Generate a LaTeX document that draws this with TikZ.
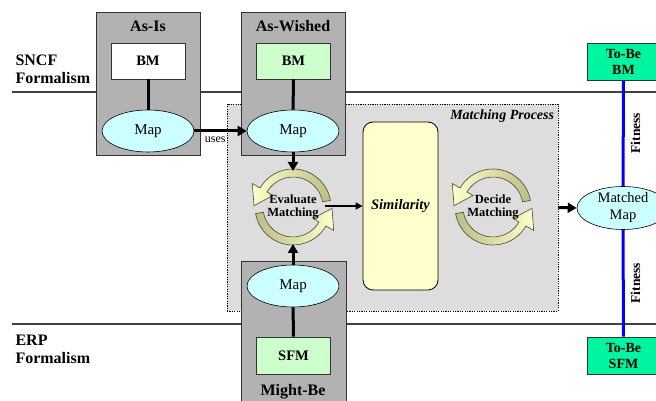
\documentclass[tikz,border=0pt]{standalone}
\usepackage{fontspec}
\setmainfont{Liberation Serif}
\usetikzlibrary{positioning, shapes.geometric, calc, arrows.meta}

\definecolor{boxgray}{HTML}{B2B2B2}
\definecolor{procgray}{HTML}{DDDDDD}
\definecolor{mapcyan}{HTML}{CCFFFF}
\definecolor{bmgreen}{HTML}{CCFFCC}
\definecolor{tobegreen}{HTML}{00F5A0}
\definecolor{simyellow}{HTML}{FFFFCC}
\definecolor{turndark}{HTML}{BDBD8A}
\definecolor{fitblue}{HTML}{0000FF}

% one half of a turning pair of arrows round a centre
\newcommand{\turnarrow}[3]{%
  \draw[turn, #3] ($(#1)+(#2+10:38pt)$) arc (#2+10:#2+150:38pt)
    -- ($(#1)+(#2+150:47pt)$) -- ($(#1)+(#2+178:39pt)$)
    -- ($(#1)+(#2+150:23pt)$) -- ($(#1)+(#2+150:30pt)$)
    arc (#2+150:#2+10:30pt) -- cycle;}

\begin{document}
\begin{tikzpicture}[x=1pt, y=1pt,
    frame/.style={draw=black!80, fill=boxgray, line width=0.8pt, minimum width=104pt, inner sep=0pt},
    model/.style={draw=black!80, line width=0.6pt, minimum width=74pt, minimum height=36pt, inner sep=0pt,
      font=\fontsize{14.5}{14.5}\selectfont\bfseries},
    tobe/.style={model, fill=tobegreen, minimum width=73pt, minimum height=37pt, align=center,
      font=\fontsize{14}{16}\selectfont\bfseries},
    map/.style={draw, ellipse, fill=mapcyan, line width=0.6pt, minimum width=92pt, minimum height=42pt,
      inner sep=0pt, font=\fontsize{15}{17}\selectfont},
    title/.style={font=\fontsize{16}{18}\selectfont\bfseries},
    stage/.style={align=center, font=\fontsize{12.5}{13.5}\selectfont\bfseries},
    link/.style={line width=3pt},
    flow/.style={line width=3pt, -{Triangle[length=9pt, width=10pt]}},
    thinflow/.style={line width=1.5pt, -{Triangle[length=7pt, width=7pt]}},
    turn/.style={draw=black!60!olive, line width=0.6pt},
    fitness/.style={line width=3pt, draw=fitblue},
    formline/.style={line width=1.5pt, draw=black!75}]

    \useasboundingbox (0,0) rectangle (656,401);
    \fill[white] (0,0) rectangle (656,401);

    % formalism levels
    \node[title, anchor=west, align=left] (sncf) at (12,332) {SNCF\\Formalism};
    \node[title, anchor=west, align=left] (erp) at (12,52) {ERP\\Formalism};
    \draw[formline] (12,309) -- (656,309);
    \draw[formline] (12,77) -- (656,77);

    % matching process area
    \node[draw, fill=procgray, line width=0.6pt, dash pattern=on 1.2pt off 1.2pt,
      minimum width=331pt, minimum height=207pt, inner sep=0pt] (process) at (392.5,193.5) {};
    \node[anchor=north east, inner sep=0pt, font=\fontsize{14}{14}\selectfont\bfseries\itshape]
      at ([xshift=-4pt, yshift=-6pt]process.north east) {Matching Process};

    % the three models
    \node[frame, minimum height=143pt] (asis) at (148,317.5) {};
    \node[title] at (148,375) {As-Is};
    \node[model, fill=white] (asisbm) at (148,340) {BM};
    \node[map] (asismap) at (148,270) {Map};
    \draw[link] (asisbm) -- (asismap);

    \node[frame, minimum height=143pt] (wished) at (293,317.5) {};
    \node[title] at (293,375) {As-Wished};
    \node[model, fill=bmgreen] (wishbm) at (293.5,340) {BM};
    \node[map] (wishmap) at (293,270) {Map};
    \draw[link] (wishbm) -- (wishmap);

    \node[frame, minimum width=105pt, minimum height=149pt] (might) at (293.5,65.5) {};
    \node[title] at (293,9) {Might-Be};
    \node[model, fill=bmgreen, minimum height=37pt] (mightsfm) at (293.5,45.5) {SFM};
    \node[map] (mightmap) at (293,115) {Map};
    \draw[link] (mightmap) -- (mightsfm);

    \draw[flow] (asismap) -- (wishmap) node[pos=0.4, below=4pt, inner sep=0pt, font=\fontsize{12}{12}\selectfont] {uses};

    % evaluate and decide cycles
    \coordinate (evalc) at (293,194);
    \coordinate (decidec) at (493,194);
    \turnarrow{evalc}{0}{left color=simyellow, right color=turndark}
    \turnarrow{evalc}{180}{left color=turndark, right color=simyellow}
    \turnarrow{decidec}{0}{left color=simyellow, right color=turndark}
    \turnarrow{decidec}{180}{left color=turndark, right color=simyellow}
    \node[stage] (evaluate) at (evalc) {Evaluate\\Matching};
    \node[stage] (decide) at (decidec) {Decide\\Matching};
    \coordinate (evaltop) at (293,230);
    \coordinate (evalbot) at (293,157);
    \draw[flow] (wishmap) -- (evaltop);
    \draw[flow] (mightmap) -- (evalbot);

    \node[draw, line width=0.8pt, rounded corners=10pt, fill=simyellow, minimum width=75pt, minimum height=168pt,
      font=\fontsize{14.5}{14.5}\selectfont\bfseries\itshape] (sim) at (400.5,195) {Similarity};
    \draw[thinflow] ([xshift=3pt]evaluate.east |- sim.west) -- (sim.west);

    % result and fitness
    \node[map, minimum height=43pt, align=center, font=\fontsize{14.5}{17}\selectfont] (matched) at (623,193) {Matched\\Map};
    \draw[flow] (process.east) -- (matched.west);
    \node[tobe] (tobebm) at (623.5,339.5) {To-Be\\BM};
    \node[tobe] (tobesfm) at (623.5,45.5) {To-Be\\SFM};
    \draw[fitness] (tobebm) -- (matched)
      node[midway, rotate=90, anchor=north, inner sep=6pt, font=\fontsize{13.5}{13.5}\selectfont\bfseries, text=black] {Fitness};
    \draw[fitness] (matched) -- (tobesfm)
      node[midway, rotate=90, anchor=north, inner sep=6pt, font=\fontsize{13.5}{13.5}\selectfont\bfseries, text=black] {Fitness};
\end{tikzpicture}
\end{document}
